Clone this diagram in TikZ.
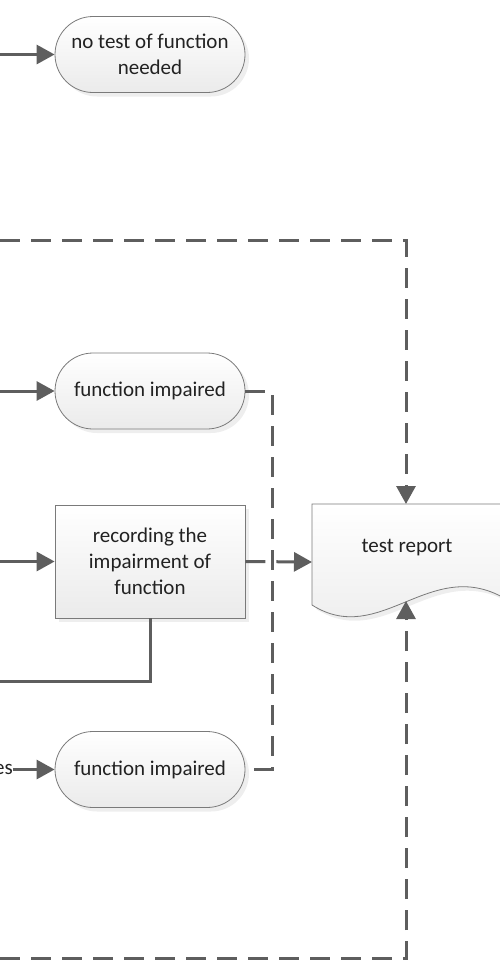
\documentclass[tikz,border=0pt]{standalone}
\usepackage{fontspec}
\setmainfont{Carlito}
\usetikzlibrary{arrows.meta,shadows}
\definecolor{linegray}{HTML}{5E5E5E}
\definecolor{edgegray}{HTML}{7A7A7A}
\definecolor{txtcol}{HTML}{222222}

\begin{document}
\begin{tikzpicture}[x=1pt,y=-1pt,
  font=\fontsize{21}{26}\selectfont, text=txtcol,
  conn/.style={line width=3pt, draw=linegray},
  tip/.style={-{Triangle[length=18pt,width=19pt]}},
  arr/.style={conn, tip},
  dashline/.style={conn, dash pattern=on 20pt off 11pt},
  dasharr/.style={dashline, tip},
  shapebox/.style={draw=edgegray, line width=0.8pt, top color=white,
    bottom color=black!8, align=center,
    drop shadow={shadow xshift=4pt, shadow yshift=-4pt, fill=black!13}},
  term/.style={shapebox, minimum width=190pt, minimum height=76pt,
    rounded corners=38pt, inner sep=0pt},
  procbox/.style={shapebox, minimum width=190pt, minimum height=113pt,
    inner sep=0pt}
]
\useasboundingbox (0,0) rectangle (500,967);

% process shapes
\node[term] (nt) at (150,54.5) {no test of function\\needed};
\node[term] (fi1) at (150,391) {function impaired};
\node[procbox] (rec) at (150,561.5) {recording the\\impairment of\\function};
\node[term] (fi2) at (150,769.5) {function impaired};
\node[anchor=east, inner sep=0pt] (yes) at (13,769.5) {es};

% document shape: test report
\path[shapebox] (312,504) -- (504,504) -- (504,598)
  .. controls (430,556) and (380,648) .. (312,605) -- cycle;
\node (rep) at (407,548) {test report};
\coordinate (rtop) at (406,504);
\coordinate (rbot) at (406,601);
\coordinate (rleft) at (312,562);

% free ends of the incoming connectors
\coordinate (s1) at (0,54.5);
\coordinate (s2) at (0,240);
\coordinate (s3) at (0,391);
\coordinate (s4) at (0,561.5);
\coordinate (s5) at (0,681);
\coordinate (s6) at (0,958);
\coordinate (j1) at (272,391);
\coordinate (j2) at (272,769.5);

% connectors
\draw[arr] (s1) -- (nt);
\draw[dasharr] (s2) -| (rtop);
\draw[arr] (s3) -- (fi1);
\draw[dashline] (fi1.east) -- (j1) -- (j2) -- (fi2.east);
\draw[arr] (s4) -- (rec);
\draw[dasharr] (rec.east) -- (rleft);
\draw[conn] (rec.south) |- (s5);
\draw[arr] (yes) -- (fi2);
\draw[dasharr] (s6) -| (rbot);
\end{tikzpicture}
\end{document}
